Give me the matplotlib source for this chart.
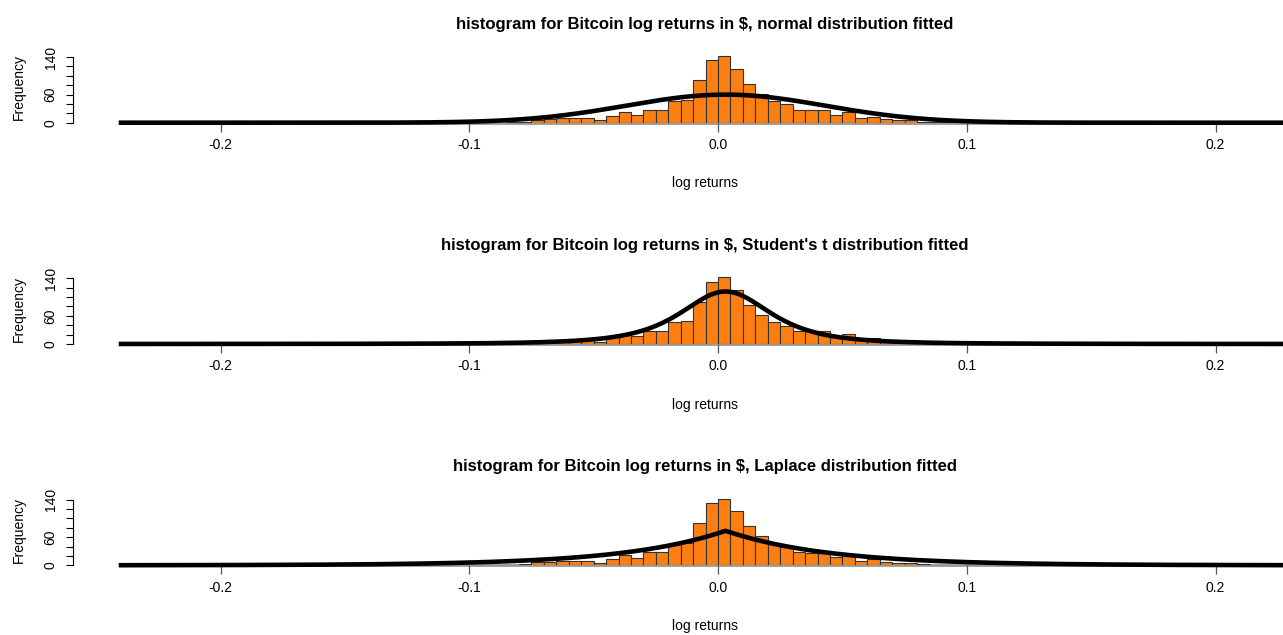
import numpy as np
import matplotlib
matplotlib.use("Agg")
import matplotlib.pyplot as plt
from math import gamma, pi, sqrt

plt.rcParams["font.family"] = ["Liberation Sans", "DejaVu Sans"]

# histogram of daily log returns, bins of width 0.005 starting at -0.085
bin_width = 0.005
bin_start = -0.085
counts = [1, 2, 6, 8, 9, 9, 10, 5, 14, 22, 16, 28, 28, 46, 48, 90, 133, 142,
          115, 83, 62, 46, 39, 28, 27, 27, 17, 22, 10, 13, 7, 5, 5, 2, 1, 1]

titles = [
    "histogram for Bitcoin log returns in $, normal distribution fitted",
    "histogram for Bitcoin log returns in $, Student's t distribution fitted",
    "histogram for Bitcoin log returns in $, Laplace distribution fitted",
]
x_ticks = [-0.2, -0.1, 0.0, 0.1, 0.2]
x_tick_labels = ["-0.2", "-0.1", "0.0", "0.1", "0.2"]
y_ticks = [0, 20, 40, 60, 80, 100, 120, 140]
y_tick_labels = ["0", "", "", "60", "", "", "", "140"]

# fitted parameters
n_obs = 1200
normal_mu, normal_sd = 0.003, 0.040
t_loc, t_scale, t_df = 0.003, 0.0194, 2.5
lap_loc, lap_scale = 0.003, 0.0408
curve_from, curve_to = -0.24, 0.23


def normal_pdf(x):
    return np.exp(-0.5 * ((x - normal_mu) / normal_sd) ** 2) / (normal_sd * sqrt(2 * pi))


def t_pdf(x):
    z = (x - t_loc) / t_scale
    c = gamma((t_df + 1) / 2) / (gamma(t_df / 2) * sqrt(t_df * pi) * t_scale)
    return c * (1 + z ** 2 / t_df) ** (-(t_df + 1) / 2)


def laplace_pdf(x):
    return np.exp(-np.abs(x - lap_loc) / lap_scale) / (2 * lap_scale)


pdfs = [normal_pdf, t_pdf, laplace_pdf]

W, H = 1283, 635
fig = plt.figure(figsize=(W / 100, H / 100), dpi=100)

edges = bin_start + bin_width * np.arange(len(counts))
xs = np.linspace(curve_from, curve_to, 800)

for i in range(3):
    base = 122.7 + 221.3 * i  # pixel row of the zero line
    ax = fig.add_axes([73 / W, (H - base) / H, (1337 - 73) / W, 70.4 / H])
    ax.set_xlim(-0.2593, 0.2488)
    ax.set_ylim(0, 150)

    ax.bar(edges, counts, width=bin_width, align="edge", color="#fd7f12",
           edgecolor="#333333", linewidth=0.8, zorder=2)
    ax.plot(xs, n_obs * bin_width * pdfs[i](xs), color="black", lw=3.3,
            zorder=3, clip_on=False)

    for s in ["top", "right"]:
        ax.spines[s].set_visible(False)
    ax.spines["left"].set_bounds(0, 140)
    ax.spines["left"].set_linewidth(0.8)
    ax.spines["bottom"].set_bounds(curve_from, 0.2488)
    ax.spines["bottom"].set_color("#999999")
    ax.spines["bottom"].set_linewidth(2)
    ax.spines["bottom"].set_zorder(1)

    ax.set_xticks(x_ticks)
    ax.set_xticklabels(x_tick_labels)
    ax.set_yticks(y_ticks)
    ax.set_yticklabels(y_tick_labels, rotation=90, va="center")
    ax.tick_params(axis="x", length=6.5, width=0.9, color="#555555",
                   labelsize=10, pad=4.5)
    ax.tick_params(axis="y", length=5, width=0.8, labelsize=10, pad=6)

    ax.set_xlabel("log returns", fontsize=10, labelpad=17.5)
    ax.set_ylabel("Frequency", fontsize=10, labelpad=13)
    ax.set_title(titles[i], fontsize=12, fontweight="bold", pad=17)
    ax.patch.set_visible(False)

fig.savefig("out.png", dpi=100)
